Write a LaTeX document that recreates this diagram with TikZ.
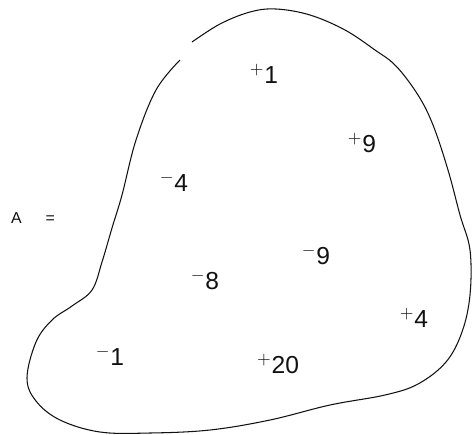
\documentclass[tikz,border=0pt]{standalone}
\usepackage{fontspec}
\setmainfont{Liberation Sans}
\usepackage{tikz}
\definecolor{AInk}{HTML}{111111}

\tikzset{
  charge/.style={inner sep=0pt,font=\fontsize{14}{16}\selectfont,text=AInk},
  setname/.style={inner sep=0pt,font=\fontsize{9}{11}\selectfont,text=AInk}
}

\begin{document}
\begin{tikzpicture}[x=0.02cm,y=-0.02cm]
\path[use as bounding box] (0,0) rectangle (474,434);
% outline of the set, open at the upper left
\draw[AInk,line width=0.6pt] plot[smooth,tension=0.6] coordinates {
  (192,42) (220,24) (250,12) (276,9) (310,15) (345,30) (375,50) (396,66)
  (418,95) (433,125) (448,170) (460,215) (470,250) (470,295) (462,332)
  (446,362) (418,384) (385,395) (330,405) (270,420) (210,430) (150,433)
  (100,432) (60,420) (36,401) (27,378) (36,342) (52,320) (72,306) (92,290)
  (102,262) (112,228) (122,195) (136,140) (156,90) (180,60)};
\node[setname] (lbl) at (33,218) {A\hspace{1.5em}=};
\node[charge] (p1) at (264,74) {$^{+}$1};
\node[charge] (p9) at (362,143) {$^{+}$9};
\node[charge] (m4) at (174,182) {$^{-}$4};
\node[charge] (m9) at (316,255) {$^{-}$9};
\node[charge] (m8) at (205,280) {$^{-}$8};
\node[charge] (p4) at (414,318) {$^{+}$4};
\node[charge] (m1) at (110,356) {$^{-}$1};
\node[charge] (p20) at (278,364) {$^{+}$20};
\end{tikzpicture}
\end{document}
